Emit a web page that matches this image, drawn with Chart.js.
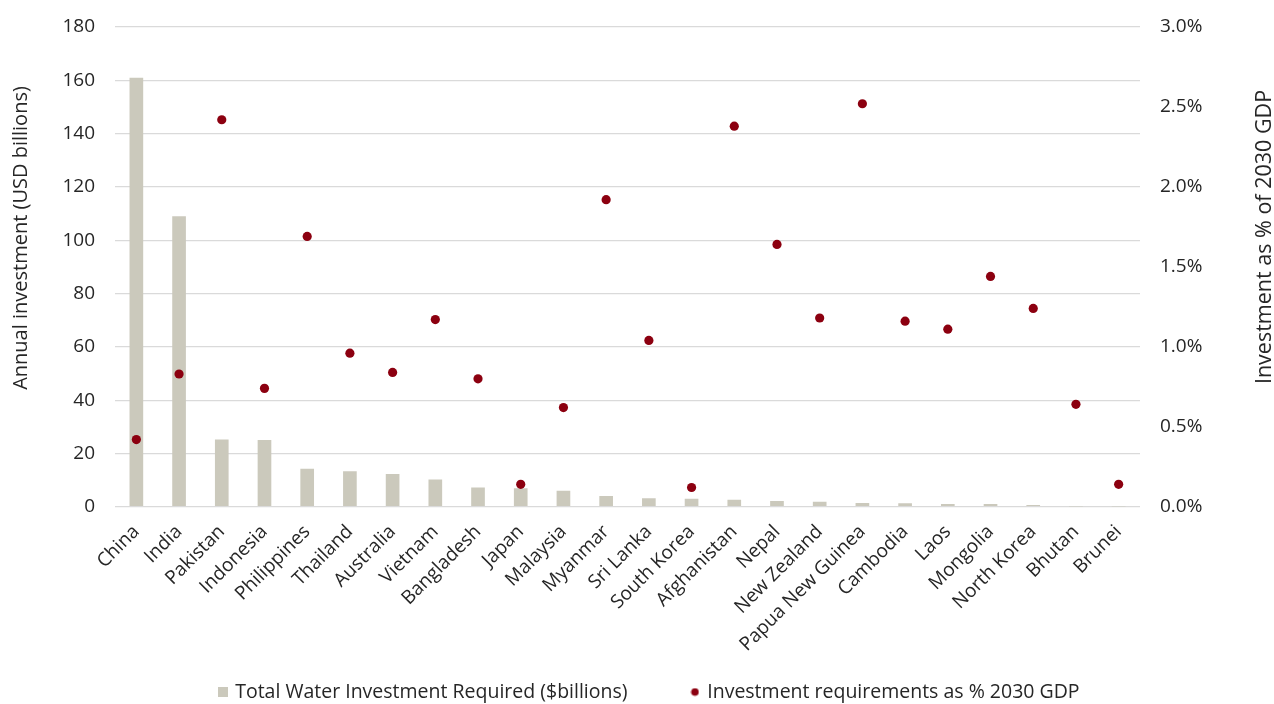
<!DOCTYPE html>
<html>
<head>
<meta charset="utf-8">
<script src="https://cdn.jsdelivr.net/npm/chart.js@4/dist/chart.umd.min.js"></script>
<style>
  html, body { margin: 0; padding: 0; background: #ffffff; }
  #wrap { width: 1274px; height: 704px; }
</style>
</head>
<body>
<div id="wrap"><canvas id="chart" width="1274" height="704"></canvas></div>
<script>
// Countries, ordered by total annual water investment required
const countries = ['China', 'India', 'Pakistan', 'Indonesia', 'Philippines', 'Thailand', 'Australia', 'Vietnam',
  'Bangladesh', 'Japan', 'Malaysia', 'Myanmar', 'Sri Lanka', 'South Korea', 'Afghanistan', 'Nepal',
  'New Zealand', 'Papua New Guinea', 'Cambodia', 'Laos', 'Mongolia', 'North Korea', 'Bhutan', 'Brunei'];

// Total water investment required, USD billions per year
const investmentBn = [161, 109, 25.2, 25, 14.2, 13.3, 12.3, 10.2, 7.2, 6.9, 6, 4, 3.2, 3, 2.6, 2.1,
  1.9, 1.4, 1.3, 1, 1, 0.6, 0.1, 0.1];

// Investment requirement as a share of 2030 GDP, percent
const pctOfGdp = [0.42, 0.83, 2.42, 0.74, 1.69, 0.96, 0.84, 1.17, 0.80, 0.14, 0.62, 1.92, 1.04, 0.12,
  2.38, 1.64, 1.18, 2.52, 1.16, 1.11, 1.44, 1.24, 0.64, 0.14];

// Axis tick settings
const leftTicks = { min: 0, max: 180, step: 20 };
const rightTicks = { min: 0, max: 3, step: 0.5 };

const seriesNames = ['Total Water Investment Required ($billions)', 'Investment requirements as % 2030 GDP'];
const axisTitles = ['Annual investment (USD billions)', 'Investment as % of 2030 GDP'];

const barColor = '#cbc9bc';
const dotColor = '#8c0010';
const textColor = '#262626';
const gridColor = '#dadada';
const fontFamily = "'Open Sans', 'Noto Sans', sans-serif";

Chart.defaults.font.family = fontFamily;
Chart.defaults.color = textColor;

// Small legend symbols: a square for the bars, a dot for the points
function makeIcon(kind) {
  const c = document.createElement('canvas');
  const g = c.getContext('2d');
  if (kind === 'square') {
    c.width = 10; c.height = 10;
    g.fillStyle = barColor;
    g.fillRect(0, 0, 10, 10);
  } else {
    c.width = 9; c.height = 9;
    g.fillStyle = dotColor;
    g.beginPath();
    g.arc(4.5, 4.5, 3.8, 0, Math.PI * 2);
    g.fill();
  }
  return c;
}
const icons = [makeIcon('square'), makeIcon('dot')];

const PLOT_TOP = 27;
const PLOT_BOTTOM = 506.7;
const LEGEND_FONT = 19.5;
const LEGEND_GAP = 65;
const LEGEND_Y = 692;
const LEGEND_DX = 13;

// Places the legend row below the rotated category labels
const legendPlacer = {
  id: 'legendPlacer',
  afterLayout(chart) {
    const lg = chart.legend;
    if (!lg) return;
    lg.top = LEGEND_Y - LEGEND_GAP - LEGEND_FONT / 2;
    lg.bottom = chart.height;
    lg.height = lg.bottom - lg.top;
    lg.left += LEGEND_DX;
    lg.right += LEGEND_DX;
  }
};

// Vertical axis titles, both reading bottom to top
const axisTitlePlugin = {
  id: 'axisTitles',
  afterDraw(chart) {
    const ctx = chart.ctx;
    const items = [
      { text: axisTitles[0], x: 21, y: 238, size: 20 },
      { text: axisTitles[1], x: 1265, y: 237, size: 21.5 }
    ];
    ctx.save();
    ctx.fillStyle = textColor;
    ctx.textAlign = 'center';
    ctx.textBaseline = 'middle';
    items.forEach(t => {
      ctx.save();
      ctx.font = t.size + 'px ' + fontFamily;
      ctx.translate(t.x, t.y);
      ctx.rotate(-Math.PI / 2);
      ctx.fillText(t.text, 0, 0);
      ctx.restore();
    });
    ctx.restore();
  }
};

// Fixed-width value axes; the top label may overhang the plot edge
function fixValueAxis(width) {
  return (scale) => {
    scale.width = width;
    scale.paddingTop = 0;
  };
}

new Chart(document.getElementById('chart'), {
  data: {
    labels: countries,
    datasets: [
      {
        type: 'bar',
        label: seriesNames[0],
        data: investmentBn,
        backgroundColor: barColor,
        borderWidth: 0,
        yAxisID: 'y',
        barPercentage: 0.32,
        categoryPercentage: 1,
        order: 2
      },
      {
        type: 'line',
        label: seriesNames[1],
        data: pctOfGdp,
        showLine: false,
        pointRadius: 4.6,
        pointHoverRadius: 4.6,
        pointBackgroundColor: dotColor,
        pointBorderWidth: 0,
        borderColor: dotColor,
        backgroundColor: dotColor,
        yAxisID: 'y1',
        order: 1
      }
    ]
  },
  options: {
    responsive: false,
    animation: false,
    layout: { padding: { top: PLOT_TOP, left: 0, right: 0, bottom: 0 } },
    plugins: {
      tooltip: { enabled: false },
      legend: {
        position: 'bottom',
        maxHeight: 42,
        labels: {
          usePointStyle: true,
          boxWidth: 5,
          boxHeight: 10,
          padding: LEGEND_GAP,
          color: textColor,
          font: { size: LEGEND_FONT },
          generateLabels(chart) {
            return chart.data.datasets.map((ds, i) => ({
              text: ds.label,
              datasetIndex: i,
              pointStyle: icons[i],
              fillStyle: i === 0 ? barColor : dotColor,
              strokeStyle: 'rgba(0,0,0,0)',
              lineWidth: 0,
              hidden: false,
              fontColor: textColor
            }));
          }
        }
      }
    },
    scales: {
      x: {
        grid: { display: false },
        border: { display: false },
        ticks: {
          maxRotation: 45,
          minRotation: 45,
          autoSkip: false,
          padding: 6,
          color: textColor,
          font: { size: 19 }
        },
        afterFit(scale) {
          const lgH = scale.chart.legend ? scale.chart.legend.height : 0;
          scale.height = 704 - PLOT_BOTTOM - lgH;
        }
      },
      y: {
        position: 'left',
        min: leftTicks.min,
        max: leftTicks.max,
        grid: { color: gridColor, lineWidth: 1.2, drawTicks: false },
        border: { display: false },
        ticks: {
          stepSize: leftTicks.step,
          padding: 20,
          color: textColor,
          font: { size: 19 }
        },
        afterFit: fixValueAxis(115)
      },
      y1: {
        position: 'right',
        min: rightTicks.min,
        max: rightTicks.max,
        grid: { display: false, drawTicks: false },
        border: { display: false },
        ticks: {
          stepSize: rightTicks.step,
          padding: 20,
          color: textColor,
          font: { size: 19 },
          callback: (v) => Number(v).toFixed(1) + '%'
        },
        afterFit: fixValueAxis(134)
      }
    }
  },
  plugins: [legendPlacer, axisTitlePlugin]
});
</script>
</body>
</html>
